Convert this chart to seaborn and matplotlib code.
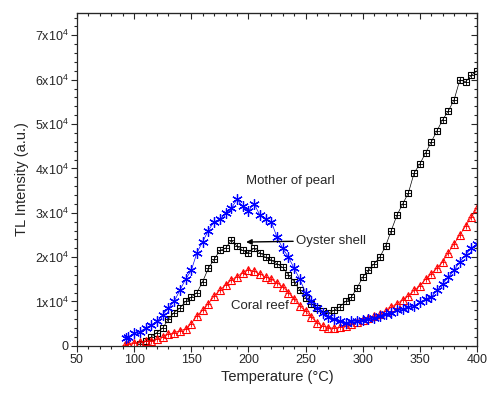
import numpy as np
import pandas as pd
import seaborn as sns
import matplotlib.pyplot as plt
from matplotlib.ticker import MultipleLocator, FuncFormatter, NullFormatter

sns.set_style("ticks")
plt.rcParams["font.family"] = ["Liberation Sans", "DejaVu Sans"]
plt.rcParams["mathtext.fontset"] = "custom"
plt.rcParams["mathtext.rm"] = "Liberation Sans"

# ---------------------------
# Data (TL glow curves, intensity in units of 1e4)
# ---------------------------
oyster_t = [105, 110, 115, 120, 125, 130, 135, 140, 145, 150, 155, 160, 165, 170, 175, 180,
            185, 190, 195, 200, 205, 210, 215, 220, 225, 230, 235, 240, 245, 250, 255, 260,
            265, 270, 275, 280, 285, 290, 295, 300, 305, 310, 315, 320, 325, 330, 335, 340,
            345, 350, 355, 360, 365, 370, 375, 380, 385, 390, 395, 400]
oyster_i = [0.05, 0.1, 0.2, 0.3, 0.4, 0.6, 0.75, 0.85, 1.0, 1.1, 1.2, 1.45, 1.75, 1.95, 2.15, 2.2,
            2.38, 2.25, 2.15, 2.1, 2.2, 2.1, 2.0, 1.93, 1.85, 1.77, 1.6, 1.45, 1.25, 1.08, 0.95, 0.85,
            0.78, 0.74, 0.8, 0.88, 1.0, 1.1, 1.3, 1.55, 1.7, 1.85, 2.0, 2.25, 2.6, 2.95, 3.2, 3.45,
            3.9, 4.1, 4.35, 4.6, 4.85, 5.1, 5.3, 5.55, 6.0, 5.95, 6.1, 6.2]

pearl_t = [93, 95, 100, 105, 110, 115, 120, 125, 130, 135, 140, 145, 150, 155, 160, 165, 170,
           175, 180, 185, 190, 195, 200, 205, 210, 215, 220, 225, 230, 235, 240, 245, 250, 255,
           260, 265, 270, 275, 280, 285, 290, 295, 300, 305, 310, 315, 320, 325, 330, 335, 340,
           345, 350, 355, 360, 365, 370, 375, 380, 385, 390, 395, 400]
pearl_i = [0.18, 0.2, 0.28, 0.32, 0.4, 0.47, 0.55, 0.7, 0.85, 1.0, 1.25, 1.5, 1.7, 2.1, 2.35, 2.6, 2.8,
           2.85, 3.0, 3.1, 3.3, 3.15, 3.05, 3.2, 2.95, 2.85, 2.8, 2.45, 2.2, 2.0, 1.75, 1.5, 1.2, 1.0,
           0.85, 0.75, 0.66, 0.6, 0.55, 0.52, 0.55, 0.55, 0.58, 0.6, 0.62, 0.68, 0.72, 0.75, 0.8, 0.82, 0.88,
           0.9, 0.98, 1.05, 1.1, 1.25, 1.4, 1.55, 1.7, 1.9, 2.05, 2.2, 2.3]

coral_t = [92, 95, 100, 105, 110, 115, 120, 125, 130, 135, 140, 145, 150, 155, 160, 165, 170,
           175, 180, 185, 190, 195, 200, 205, 210, 215, 220, 225, 230, 235, 240, 245, 250, 255,
           260, 265, 270, 275, 280, 285, 290, 295, 300, 305, 310, 315, 320, 325, 330, 335, 340,
           345, 350, 355, 360, 365, 370, 375, 380, 385, 390, 395, 400]
coral_i = [0.03, 0.05, 0.07, 0.09, 0.1, 0.12, 0.15, 0.2, 0.26, 0.3, 0.34, 0.38, 0.5, 0.68, 0.8, 0.95, 1.12,
           1.25, 1.38, 1.48, 1.56, 1.65, 1.72, 1.68, 1.62, 1.55, 1.5, 1.42, 1.33, 1.2, 1.05, 0.9, 0.78, 0.65,
           0.52, 0.44, 0.41, 0.4, 0.42, 0.45, 0.5, 0.53, 0.58, 0.62, 0.67, 0.71, 0.78, 0.87, 0.95, 1.04, 1.12,
           1.25, 1.36, 1.5, 1.62, 1.75, 1.9, 2.1, 2.3, 2.5, 2.7, 2.9, 3.1]

oyster = pd.DataFrame({"T": oyster_t, "I": np.array(oyster_i) * 1e4})
pearl = pd.DataFrame({"T": pearl_t, "I": np.array(pearl_i) * 1e4})
coral = pd.DataFrame({"T": coral_t, "I": np.array(coral_i) * 1e4})

# ---------------------------
# Plot
# ---------------------------
fig = plt.figure(figsize=(4.87, 3.93), dpi=100)
ax = fig.add_axes([0.158, 0.12, 0.8215, 0.8465])

# oyster shell: open squares with a cross inside
sns.lineplot(data=oyster, x="T", y="I", ax=ax, color="black", lw=0.5, marker="s",
             markersize=5, markerfacecolor="none", markeredgecolor="black", markeredgewidth=0.8)
sns.scatterplot(data=oyster, x="T", y="I", ax=ax, color="black", marker="+", s=18, linewidth=0.6)

# coral reef: open triangles with a cross
sns.lineplot(data=coral, x="T", y="I", ax=ax, color="red", lw=0.5, marker="^",
             markersize=5.5, markerfacecolor="none", markeredgecolor="red", markeredgewidth=0.8)
sns.scatterplot(data=coral, x="T", y="I", ax=ax, color="red", marker="+", s=16, linewidth=0.6)

# mother of pearl: asterisks
sns.lineplot(data=pearl, x="T", y="I", ax=ax, color="blue", lw=0.5, marker=(6, 2, 0),
             markersize=7.5, markeredgecolor="blue", markeredgewidth=0.9)

ax.text(237, 3.72e4, "Mother of pearl", ha="center", va="center", fontsize=9.5)
ax.annotate("Oyster shell", xy=(198, 2.34e4), xytext=(242, 2.37e4), ha="left", va="center",
            fontsize=9.5, arrowprops=dict(arrowstyle="-|>", color="black", lw=1.0,
                                          mutation_scale=8, shrinkA=0, shrinkB=0))
ax.text(210, 0.9e4, "Coral reef", ha="center", va="center", fontsize=9.5)

ax.set_xlim(50, 400)
ax.set_ylim(0, 75000)
ax.xaxis.set_major_locator(MultipleLocator(50))
ax.xaxis.set_minor_locator(MultipleLocator(10))
ax.yaxis.set_major_locator(MultipleLocator(10000))
ax.yaxis.set_minor_locator(MultipleLocator(2000))


def sci_fmt(v, pos):
    n = int(round(v / 1e4))
    if n == 0:
        return "0"
    return r"%dx10$^{\mathregular{4}}$" % n


ax.yaxis.set_major_formatter(FuncFormatter(sci_fmt))
ax.tick_params(which="both", direction="out", labelsize=9, width=0.8, pad=2)
ax.tick_params(which="major", length=4)
ax.tick_params(which="minor", length=2.5)

# mirrored ticks pointing inward on top and right
top = ax.secondary_xaxis("top")
top.xaxis.set_major_locator(MultipleLocator(50))
top.xaxis.set_minor_locator(MultipleLocator(10))
top.xaxis.set_major_formatter(NullFormatter())
top.tick_params(which="both", direction="in", width=0.8)
top.tick_params(which="major", length=4)
top.tick_params(which="minor", length=2.5)
right = ax.secondary_yaxis("right")
right.yaxis.set_major_locator(MultipleLocator(10000))
right.yaxis.set_minor_locator(MultipleLocator(2000))
right.yaxis.set_major_formatter(NullFormatter())
right.tick_params(which="both", direction="in", width=0.8)
right.tick_params(which="major", length=4)
right.tick_params(which="minor", length=2.5)

for s in ax.spines.values():
    s.set_linewidth(0.9)

ax.set_xlabel("Temperature (\u00b0C)", fontsize=10.5, labelpad=3)
ax.set_ylabel("TL Intensity (a.u.)", fontsize=10.5, labelpad=4)

plt.savefig("out.png", dpi=100)
